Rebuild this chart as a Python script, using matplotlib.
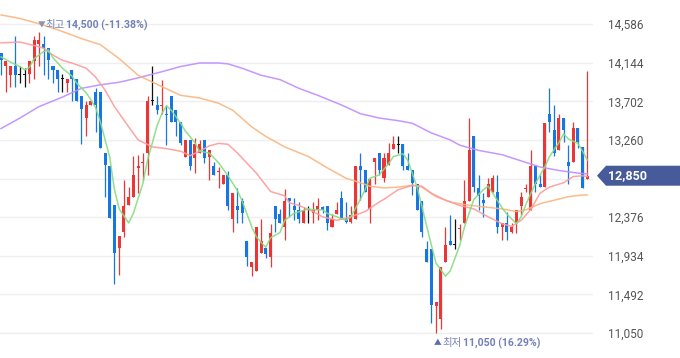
import matplotlib
matplotlib.use('Agg')
import matplotlib.pyplot as plt
from matplotlib.patches import Polygon
import numpy as np

plt.rcParams['font.family'] = ['Roboto', 'Noto Sans CJK KR', 'DejaVu Sans']

# daily candles (KRW)
opens = [14250, 14110, 14000, 14100, 14010, 14010, 14010, 14160, 14360, 14360,
         14310, 14110, 14060, 13960, 13910, 14060, 13960, 13760, 13510, 13660,
         13810, 13810, 13110, 12960, 12510, 12020, 12210, 12510, 12610, 12950,
         13000, 13110, 13710, 13660, 13650, 13560, 13760, 13600, 13460, 13060,
         13260, 13050, 13110, 13260, 13060, 12960, 12900, 12760, 12860, 12360,
         12500, 12560, 12100, 11810, 11760, 11960, 12020, 11920, 12500, 12410,
         12260, 12600, 12500, 12460, 12310, 12460, 12420, 12460, 12490, 12500,
         12260, 12410, 12600, 12350, 12320, 12350, 12960, 12910, 12470, 13010,
         13110, 12820, 12970, 13160, 13210, 13210, 12960, 12910, 12760, 12560,
         12010, 12010, 11360, 11210, 11860, 12100, 12060, 12250, 12310, 12560,
         13300, 12710, 12570, 12610, 12660, 12660, 12260, 12310, 12210, 12310,
         12500, 12700, 12460, 12960, 12760, 12720, 13560, 13370, 13150, 13510,
         13010, 13010, 13400, 13180, 12810]
highs = [14250, 14160, 14100, 14450, 14100, 14080, 14160, 14450, 14500, 14450,
         14310, 14110, 14060, 14010, 13960, 14060, 13960, 13760, 13710, 13710,
         13850, 13810, 13110, 12960, 12510, 12160, 12800, 12720, 13070, 13090,
         13110, 13760, 14110, 13760, 13950, 13660, 13760, 13600, 13460, 13260,
         13260, 13280, 13260, 13260, 13150, 13010, 12950, 12860, 12900, 12650,
         12710, 12590, 12100, 11860, 12260, 12350, 12020, 12300, 12500, 12470,
         12700, 12600, 12600, 12550, 12490, 12500, 12550, 12600, 12500, 12500,
         12410, 12550, 12670, 12550, 12500, 12960, 13110, 12910, 12810, 13050,
         13110, 13110, 13230, 13300, 13300, 13210, 13110, 12910, 12760, 12560,
         12100, 12010, 11400, 11800, 12260, 12400, 12350, 12300, 12800, 13510,
         13300, 12860, 12650, 12820, 12860, 12860, 12310, 12440, 12310, 12460,
         12660, 12760, 13150, 12960, 12860, 13450, 13850, 13660, 13560, 13510,
         13200, 13460, 13400, 13180, 14050]
lows = [14000, 13810, 13860, 13860, 13910, 13860, 13910, 13960, 14110, 14000,
        13960, 13910, 13810, 13810, 13810, 13710, 13710, 13210, 13300, 13660,
        13350, 13170, 12610, 12370, 11610, 11710, 12150, 12510, 12610, 12650,
        12800, 12860, 13660, 13560, 13560, 13200, 13460, 13300, 13200, 13060,
        12910, 12880, 13110, 13000, 12800, 12860, 12710, 12760, 12460, 12210,
        12310, 12310, 11820, 11700, 11760, 11960, 11910, 11810, 12210, 12310,
        12110, 12380, 12340, 12310, 12310, 12310, 12310, 12340, 12420, 12230,
        12260, 12410, 12360, 12310, 12310, 12350, 12570, 12660, 12310, 12760,
        12860, 12780, 12970, 13160, 13110, 12920, 12910, 12630, 12460, 12150,
        11860, 11160, 11050, 11100, 11860, 12060, 12010, 12110, 12310, 12560,
        12660, 12460, 12380, 12610, 12660, 12200, 12110, 12110, 12200, 12200,
        12400, 12660, 12460, 12660, 12720, 12720, 13350, 13070, 13150, 13240,
        12760, 13010, 13170, 12710, 12810]
closes = [14170, 14160, 14100, 14000, 14010, 14010, 14160, 14400, 14400, 14310,
          14170, 14060, 13960, 13960, 13960, 13960, 13710, 13610, 13660, 13710,
          13660, 13170, 12970, 12370, 11970, 12160, 12500, 12610, 12860, 12960,
          13010, 13710, 13710, 13600, 13660, 13550, 13460, 13460, 13220, 13260,
          12960, 13210, 13210, 13050, 13150, 12860, 12910, 12860, 12500, 12650,
          12460, 12420, 11920, 11860, 12260, 12100, 11950, 12200, 12360, 12310,
          12560, 12560, 12460, 12360, 12460, 12460, 12460, 12500, 12460, 12310,
          12360, 12460, 12360, 12320, 12400, 12960, 12910, 12660, 12810, 13050,
          12910, 13050, 13110, 13210, 13210, 12960, 12910, 12770, 12460, 12210,
          11860, 11370, 11400, 11800, 12060, 12060, 12060, 12260, 12560, 13150,
          12720, 12620, 12540, 12750, 12820, 12260, 12310, 12210, 12260, 12460,
          12610, 12710, 12960, 12760, 12720, 13450, 13460, 13110, 13510, 13370,
          12960, 13400, 13240, 12710, 12850]

# moving averages (day index, price)
ma5_days = [0, 2, 4, 5, 6, 7, 9, 10, 11, 13, 15, 16, 18, 19, 20, 21, 23, 24, 25, 27,
            28, 30, 31, 33, 34, 35, 36, 38, 39, 41, 42, 44, 46, 48, 50, 51, 53, 54, 56, 57,
            59, 60, 62, 65, 66, 68, 69, 71, 73, 74, 76, 77, 78, 80, 82, 83, 85, 86, 88, 89,
            91, 92, 94, 95, 97, 98, 100, 102, 103, 104, 106, 107, 109, 110, 111, 113, 115, 116, 118, 119,
            120, 122, 123, 124]
ma5_vals = [14210, 14150, 14100, 14060, 14090, 14190, 14270, 14290, 14200, 14080,
            13990, 13910, 13800, 13720, 13630, 13470, 13060, 12690, 12470, 12310,
            12420, 12760, 13030, 13420, 13560, 13650, 13600, 13450, 13360, 13230,
            13130, 13110, 13000, 12850, 12680, 12560, 12270, 12150, 12030, 12140,
            12200, 12340, 12420, 12470, 12460, 12460, 12420, 12380, 12340, 12380,
            12580, 12690, 12820, 12860, 12990, 13070, 13100, 13030, 12720, 12500,
            12060, 11850, 11700, 11760, 12050, 12260, 12580, 12690, 12730, 12650,
            12480, 12410, 12300, 12380, 12520, 12760, 12950, 13070, 13230, 13330,
            13270, 13220, 13130, 13030]
ma20_days = [0, 4, 7, 9, 11, 13, 15, 18, 20, 22, 24, 27, 29, 32, 35, 38, 40, 42, 44, 46,
             48, 50, 54, 57, 60, 61, 63, 66, 68, 71, 74, 77, 80, 81, 84, 87, 89, 91, 94, 97,
             100, 103, 106, 108, 110, 112, 114, 116, 119, 121, 123, 124]
ma20_vals = [14370, 14380, 14340, 14310, 14230, 14170, 14140, 14080, 13980, 13830,
             13640, 13410, 13260, 13180, 13160, 13130, 13080, 13130, 13190, 13220,
             13210, 13110, 12880, 12670, 12620, 12540, 12510, 12440, 12380, 12340,
             12380, 12440, 12550, 12580, 12690, 12740, 12730, 12650, 12570, 12510,
             12470, 12380, 12300, 12270, 12340, 12460, 12650, 12720, 12770, 12840,
             12850, 12840]
ma60_days = [0, 4, 8, 12, 17, 21, 25, 29, 34, 38, 42, 46, 49, 53, 56, 60, 65, 69, 73, 76,
             78, 81, 84, 87, 89, 92, 95, 98, 101, 106, 109, 111, 114, 117, 120, 123, 124]
ma60_vals = [14690, 14650, 14590, 14520, 14420, 14350, 14190, 14000, 13870, 13770,
             13740, 13680, 13600, 13410, 13300, 13180, 13070, 12940, 12820, 12770,
             12730, 12710, 12720, 12740, 12720, 12610, 12550, 12520, 12500, 12470,
             12440, 12460, 12530, 12570, 12610, 12630, 12630]
ma120_days = [0, 4, 8, 13, 17, 21, 25, 29, 34, 38, 42, 46, 48, 51, 55, 59, 63, 67, 72, 76,
              80, 84, 87, 91, 95, 97, 101, 106, 110, 114, 118, 122, 124]
ma120_vals = [13390, 13510, 13640, 13750, 13850, 13890, 13920, 13970, 14040, 14100,
              14140, 14140, 14130, 14080, 14000, 13950, 13850, 13770, 13660, 13560,
              13510, 13480, 13450, 13340, 13260, 13200, 13140, 13090, 13020, 12950,
              12910, 12880, 12870]

y_ticks = [11050, 11492, 11934, 12376, 12818, 13260, 13702, 14144, 14586]
last_price = 12850
high_day, high_price, high_pct = 8, 14500, '-11.38%'
low_day, low_price, low_pct = 92, 11050, '16.29%'

RED = '#ec3535'
BLUE = '#1676e4'
BLACK = '#111111'

fig = plt.figure(figsize=(6.8, 3.58), dpi=100)
ax = fig.add_axes([0, 0, 593 / 680, 1])
ax.set_xlim(-0.21, 125.2)
ax.set_ylim(10764, 14861)

o = np.array(opens)
c = np.array(closes)
x = np.arange(len(o))
colors = np.where(c > o, RED, np.where(c < o, BLUE, BLACK))
ax.vlines(x, lows, highs, colors=colors, linewidth=0.9, zorder=2)
bottoms = np.minimum(o, c)
heights = np.abs(c - o).astype(float)
flat = heights < 15
bottoms = np.where(flat, bottoms - 7, bottoms)
heights = np.where(flat, 14, heights)
ax.bar(x, heights, bottom=bottoms, width=0.64, color=colors, linewidth=0, zorder=2)

ax.plot(ma120_days, ma120_vals, color='#bf8cff', lw=1.1, alpha=0.9, zorder=3)
ax.plot(ma60_days, ma60_vals, color='#fdb47c', lw=1.1, alpha=0.9, zorder=3)
ax.plot(ma20_days, ma20_vals, color='#ff9a9a', lw=1.1, alpha=0.9, zorder=3)
ax.plot(ma5_days, ma5_vals, color='#86dc80', lw=1.1, alpha=0.9, zorder=3)

# the tag sits over the 12,818 label, so only its gridline shows
ax.set_yticks(y_ticks)
ax.set_yticklabels(['' if v == 12818 else f'{v:,}' for v in y_ticks])
ax.yaxis.tick_right()
ax.tick_params(axis='y', length=0, pad=11, labelsize=8.5, labelcolor='#555555')
ax.set_xticks([])
ax.grid(axis='y', color='#efefef', lw=1)
ax.set_axisbelow(True)
for s in ax.spines.values():
    s.set_visible(False)

# high / low markers
mk = '#7482b5'
ax.annotate('▼', xy=(high_day, high_price), xytext=(-1, 4.7), textcoords='offset points',
            ha='left', va='center', fontsize=5.5, color='#8a93b0')
ax.annotate('최고', xy=(high_day, high_price), xytext=(4.8, 4.7), textcoords='offset points',
            ha='left', va='center', fontsize=7.5, color=mk)
ax.annotate(f'{high_price:,} ({high_pct})', xy=(high_day, high_price), xytext=(19.5, 4.7),
            textcoords='offset points', ha='left', va='center', fontsize=7.6,
            fontweight='bold', color=mk)
ax.annotate('▲', xy=(low_day, low_price), xytext=(-1.3, -7.4), textcoords='offset points',
            ha='left', va='center', fontsize=5.5, color='#5b6fae')
ax.annotate('최저', xy=(low_day, low_price), xytext=(4.7, -7.4), textcoords='offset points',
            ha='left', va='center', fontsize=7.5, color=mk)
ax.annotate(f'{low_price:,} ({low_pct})', xy=(low_day, low_price), xytext=(19.5, -7.4),
            textcoords='offset points', ha='left', va='center', fontsize=7.6,
            fontweight='bold', color=mk)

# current price tag
yp = ax.transData.transform((0, last_price))[1]
W, H = 680.0, 358.0
tag = [(597, yp), (606, yp + 10), (680, yp + 10), (680, yp - 10), (606, yp - 10)]
fig.patches.append(Polygon([(px / W, py / H) for px, py in tag], closed=True,
                           transform=fig.transFigure, facecolor='#475b9a',
                           edgecolor='none', zorder=5))
fig.text(608 / W, yp / H, f'{last_price:,}', color='white', fontsize=9,
         fontweight='bold', ha='left', va='center', zorder=6)

fig.savefig('out.png', dpi=100, facecolor='white')
